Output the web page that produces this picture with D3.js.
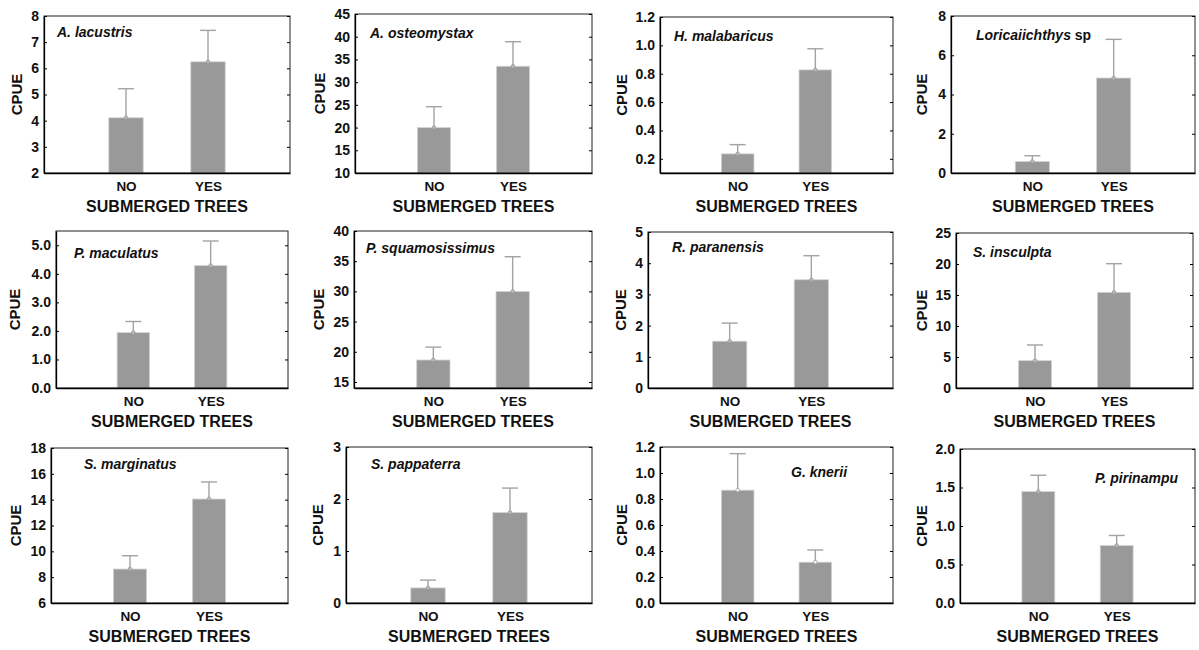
<!DOCTYPE html>
<html>
<head>
<meta charset="utf-8">
<script src="https://cdn.jsdelivr.net/npm/d3@7"></script>
<style>
  body { margin: 0; background: #fff; }
  text { font-family: "Liberation Sans", Arial, sans-serif; font-weight: bold; fill: #111; }
</style>
</head>
<body>
<div id="chart"></div>
<script>
// data
const categories = ["NO", "YES"];
const species = ["A. lacustris", "A. osteomystax", "H. malabaricus", "Loricaiichthys",
  "P. maculatus", "P. squamosissimus", "R. paranensis", "S. insculpta",
  "S. marginatus", "S. pappaterra", "G. knerii", "P. pirinampu"];
const meanNo  = [4.11, 20.0, 0.235, 0.59, 1.94, 18.64, 1.50, 4.41, 8.63, 0.29, 0.868, 1.447];
const meanYes = [6.25, 33.5, 0.827, 4.84, 4.29, 30.0, 3.47, 15.43, 14.05, 1.74, 0.314, 0.747];
const upperNo  = [5.22, 24.6, 0.30, 0.88, 2.33, 20.77, 2.08, 6.94, 9.66, 0.44, 1.149, 1.659];
const upperYes = [7.45, 38.9, 0.976, 6.81, 5.15, 35.74, 4.24, 20.05, 15.37, 2.21, 0.408, 0.877];
const yDomains = [[2, 8], [10, 45], [0.1, 1.2], [0, 8], [0, 5.5], [14, 40], [0, 5], [0, 25],
  [6, 18], [0, 3], [0, 1.2], [0, 2]];
const yTicks = [
  [2, 3, 4, 5, 6, 7, 8], [10, 15, 20, 25, 30, 35, 40, 45], [0.2, 0.4, 0.6, 0.8, 1.0, 1.2], [0, 2, 4, 6, 8],
  [0, 1, 2, 3, 4, 5], [15, 20, 25, 30, 35, 40], [0, 1, 2, 3, 4, 5], [0, 5, 10, 15, 20, 25],
  [6, 8, 10, 12, 14, 16, 18], [0, 1, 2, 3], [0, 0.2, 0.4, 0.6, 0.8, 1.0, 1.2], [0, 0.5, 1.0, 1.5, 2.0]];
const tickFormats = ["d", "d", ".1f", "d", ".1f", "d", "d", "d", "d", "d", ".1f", ".1f"];

// layout (pixels, relative to each 300x215 cell)
const boxes = [[44, 16, 290, 173], [55, 14, 292, 173], [60, 17, 293, 173], [51, 16, 295, 173],
  [56, 16, 288, 173], [54, 16, 292, 173], [48, 17, 293, 173], [56, 18, 293, 173],
  [51, 18, 288, 173], [46, 17, 292, 173], [60, 17, 293, 173], [60, 19, 295, 173]];
const labelPos = [[57, 37], [70, 38], [74, 41], [76, 40], [74, 43], [66, 38], [72, 37], [73, 42],
  [84, 39], [71, 39], [191, 47], [195, 53]];
const cpueX = [17, 20, 22, 22, 15, 19, 21, 22, 16, 18, 22, 22];

const svg = d3.select("#chart").append("svg")
  .attr("width", 1199).attr("height", 650);

species.forEach((name, i) => {
  const col = i % 4, row = Math.floor(i / 4);
  const g = svg.append("g").attr("transform", `translate(${col * 300},${row * 215})`);
  const [l, t, r, b] = boxes[i];

  const x = d3.scalePoint().domain(categories).range([l, r]).padding(1);
  const y = d3.scaleLinear().domain(yDomains[i]).range([b, t]);
  const barW = x.step() * 0.42;

  const rows = [
    { cat: "NO", mean: meanNo[i], up: upperNo[i] },
    { cat: "YES", mean: meanYes[i], up: upperYes[i] }
  ];

  // error bars
  g.selectAll("line.err").data(rows).join("line")
    .attr("x1", d => x(d.cat)).attr("x2", d => x(d.cat))
    .attr("y1", d => y(d.mean)).attr("y2", d => y(d.up))
    .attr("stroke", "#a3a3a3").attr("stroke-width", 1.4);
  g.selectAll("line.cap").data(rows).join("line")
    .attr("x1", d => x(d.cat) - 8).attr("x2", d => x(d.cat) + 8)
    .attr("y1", d => y(d.up)).attr("y2", d => y(d.up))
    .attr("stroke", "#a3a3a3").attr("stroke-width", 1.4);

  // bars
  g.selectAll("rect.bar").data(rows).join("rect")
    .attr("x", d => x(d.cat) - barW / 2)
    .attr("y", d => y(d.mean))
    .attr("width", barW)
    .attr("height", d => b - y(d.mean))
    .attr("fill", "#999999")
    .attr("stroke", "#d4d4d4").attr("stroke-width", 0.8);

  g.selectAll("circle").data(rows).join("circle")
    .attr("cx", d => x(d.cat)).attr("cy", d => y(d.mean)).attr("r", 1.8)
    .attr("fill", i === 10 ? "#fff" : "#bbb").attr("stroke", "#999").attr("stroke-width", 0.8);

  // frame
  g.append("rect").attr("x", l).attr("y", t).attr("width", r - l).attr("height", b - t)
    .attr("fill", "none").attr("stroke", "#222").attr("stroke-width", 1);

  // axes
  const fmt = d3.format(tickFormats[i]);
  const ya = g.append("g").attr("transform", `translate(${l},0)`)
    .call(d3.axisLeft(y).tickValues(yTicks[i]).tickFormat(fmt).tickSizeInner(-3).tickSizeOuter(0).tickPadding(5));
  ya.select(".domain").attr("stroke", "#000").attr("stroke-width", 1.3);
  ya.selectAll("text").style("font-size", "14px").attr("fill", "#111");

  const yr = g.append("g").attr("transform", `translate(${r},0)`)
    .call(d3.axisRight(y).tickValues(yTicks[i]).tickFormat("").tickSizeInner(-3).tickSizeOuter(0));
  yr.select(".domain").remove();

  const xa = g.append("g").attr("transform", `translate(0,${b})`)
    .call(d3.axisBottom(x).tickSize(0).tickPadding(8));
  xa.select(".domain").attr("stroke", "#000").attr("stroke-width", 1.3);
  xa.selectAll("text").style("font-size", "13.5px").attr("fill", "#111");

  // axis titles
  g.append("text")
    .attr("transform", `translate(${cpueX[i]},${(t + b) / 2}) rotate(-90)`)
    .attr("text-anchor", "middle").attr("dy", "0.36em")
    .style("font-size", "15px").text("CPUE");
  g.append("text")
    .attr("x", (l + r) / 2).attr("y", b + 39)
    .attr("text-anchor", "middle")
    .style("font-size", "16px").text("SUBMERGED TREES");

  // species name
  const lab = g.append("text").attr("x", labelPos[i][0]).attr("y", labelPos[i][1])
    .style("font-size", "14px");
  lab.append("tspan").style("font-style", "italic").text(name);
  if (name === "Loricaiichthys") lab.append("tspan").text(" sp");
});
</script>
</body>
</html>
